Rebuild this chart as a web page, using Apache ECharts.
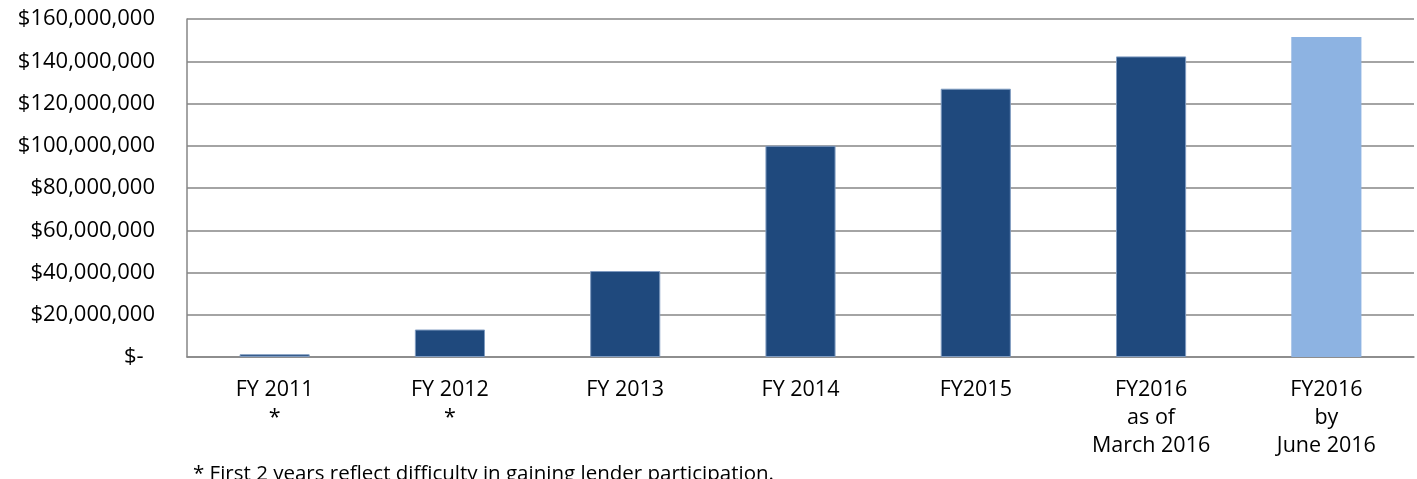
<!DOCTYPE html>
<html><head><meta charset="utf-8">
<script src="https://cdn.jsdelivr.net/npm/echarts@6/dist/echarts.min.js"></script>
<style>html,body{margin:0;padding:0;background:#fff}#c{width:1417px;height:479px}</style>
</head><body><div id="c"></div>
<script>
const categories = ['FY 2011\n*', 'FY 2012\n*', 'FY 2013', 'FY 2014', 'FY2015', 'FY2016\nas of\nMarch 2016', 'FY2016\nby\nJune 2016'];
const values = [1300000, 13000000, 40700000, 100000000, 127000000, 142300000, 151500000];
const barColors = ['#1F497D', '#1F497D', '#1F497D', '#1F497D', '#1F497D', '#1F497D', '#8DB3E2'];
const footnote = '* First 2 years reflect difficulty in gaining lender participation.';

const chart = echarts.init(document.getElementById('c'));
const font = '"Open Sans", sans-serif';
chart.setOption({
  animation: false,
  grid: { left: 187, right: 3, top: 19, bottom: 122, containLabel: false },
  xAxis: {
    type: 'category', data: categories,
    axisLine: { lineStyle: { color: '#868686', width: 1.5 } },
    axisTick: { show: false },
    axisLabel: { color: '#000', fontFamily: font, fontSize: 21.5, lineHeight: 28, margin: 19 }
  },
  yAxis: {
    type: 'value', min: 0, max: 160000000, interval: 20000000,
    axisLine: { show: true, lineStyle: { color: '#868686', width: 1.5 } },
    axisTick: { show: false },
    splitLine: { lineStyle: { color: '#868686', width: 1.5 } },
    axisLabel: {
      color: '#000', fontFamily: font, fontSize: 22, margin: 32,
      formatter: v => v === 0 ? '$-  ' : '$' + v.toLocaleString('en-US')
    }
  },
  series: [{
    type: 'bar', barWidth: '40%',
    data: values.map((v, i) => ({ value: v, itemStyle: { color: barColors[i], borderColor: i < 6 ? '#7F9BC0' : barColors[i], borderWidth: i < 6 ? 1 : 0 } }))
  }],
  graphic: [{
    type: 'text', x: 193, y: 474,
    style: { text: footnote, fontFamily: font, fontSize: 20.5, fill: '#000', textVerticalAlign: 'middle' }
  }]
});
</script></body></html>
